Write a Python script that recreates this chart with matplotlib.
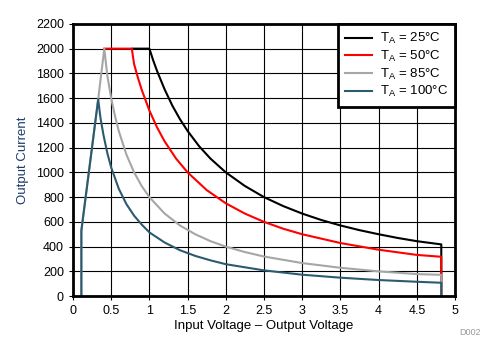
import matplotlib
matplotlib.use("Agg")
import matplotlib.pyplot as plt

plt.rcParams['font.family'] = ['Liberation Sans', 'DejaVu Sans']

# Courbes (tension, courant)
x_25 = [0.78, 1.0, 1.05, 1.1, 1.2, 1.3, 1.4, 1.5, 1.65, 1.8, 2.0, 2.25, 2.5, 2.75, 3.0, 3.25, 3.5, 3.75, 4.0, 4.25, 4.5, 4.82, 4.82]
y_25 = [2000, 2000, 1905, 1820, 1670, 1540, 1430, 1335, 1212, 1111, 1000, 890, 800, 728, 667, 615, 571, 533, 500, 470, 444, 418, 0]

x_50 = [0.41, 0.77, 0.8, 0.85, 0.9, 1.0, 1.1, 1.2, 1.35, 1.5, 1.75, 2.0, 2.25, 2.5, 2.75, 3.0, 3.5, 4.0, 4.5, 4.82, 4.82]
y_50 = [2000, 2000, 1875, 1765, 1667, 1500, 1364, 1250, 1111, 1000, 857, 750, 667, 600, 545, 500, 429, 375, 333, 318, 0]

x_85 = [0.11, 0.11, 0.33, 0.41, 0.45, 0.5, 0.55, 0.6, 0.7, 0.8, 0.9, 1.0, 1.2, 1.4, 1.6, 1.8, 2.0, 2.25, 2.5, 3.0, 3.5, 4.0, 4.5, 4.82, 4.82]
y_85 = [0, 530, 1590, 2000, 1780, 1600, 1455, 1333, 1143, 1000, 889, 800, 667, 571, 500, 444, 400, 356, 320, 267, 229, 200, 178, 172, 0]

x_100 = [0.11, 0.11, 0.33, 0.36, 0.4, 0.45, 0.5, 0.6, 0.7, 0.8, 0.9, 1.0, 1.2, 1.4, 1.6, 1.8, 2.0, 2.5, 3.0, 3.5, 4.0, 4.5, 4.82, 4.82]
y_100 = [0, 530, 1590, 1440, 1300, 1155, 1040, 867, 743, 650, 578, 515, 433, 371, 325, 289, 258, 208, 173, 149, 130, 116, 108, 0]

labels = ["T$_{\\mathregular{A}}$ = 25°C", "T$_{\\mathregular{A}}$ = 50°C",
          "T$_{\\mathregular{A}}$ = 85°C", "T$_{\\mathregular{A}}$ = 100°C"]
colors = ["#000000", "#FF0000", "#A6A6A6", "#2C5B70"]

fig = plt.figure(figsize=(4.93, 3.62), dpi=100)
ax = fig.add_axes([0.148, 0.182, 0.775, 0.752])

for xs, ys, lab, c in zip([x_25, x_50, x_85, x_100], [y_25, y_50, y_85, y_100], labels, colors):
    ax.plot(xs, ys, color=c, lw=1.5, label=lab)

ax.set_xlim(0, 5)
ax.set_ylim(0, 2200)
ax.set_xticks([0, 0.5, 1, 1.5, 2, 2.5, 3, 3.5, 4, 4.5, 5])
ax.set_xticklabels(["0", "0.5", "1", "1.5", "2", "2.5", "3", "3.5", "4", "4.5", "5"])
ax.set_yticks(range(0, 2201, 200))
ax.grid(True, color="black", lw=0.8)
ax.set_axisbelow(True)
for s in ax.spines.values():
    s.set_linewidth(2)
ax.tick_params(labelsize=9, length=3, width=0.8, colors="black")

ax.set_xlabel("Input Voltage \u2013 Output Voltage", fontsize=9.5, labelpad=2)
ax.set_ylabel("Output Current", fontsize=9.5, color="#1B3A6B", labelpad=5)

leg = ax.legend(loc="upper right", bbox_to_anchor=(1, 1), borderaxespad=0, fontsize=9.5,
                fancybox=False, framealpha=1, edgecolor="black", handlelength=2.0,
                handletextpad=0.6, labelspacing=0.2, borderpad=0.55)
leg.get_frame().set_linewidth(2)

fig.text(0.975, 0.075, "D002", fontsize=6.5, color="#999999", ha="right")

fig.savefig("out.png", dpi=100)
